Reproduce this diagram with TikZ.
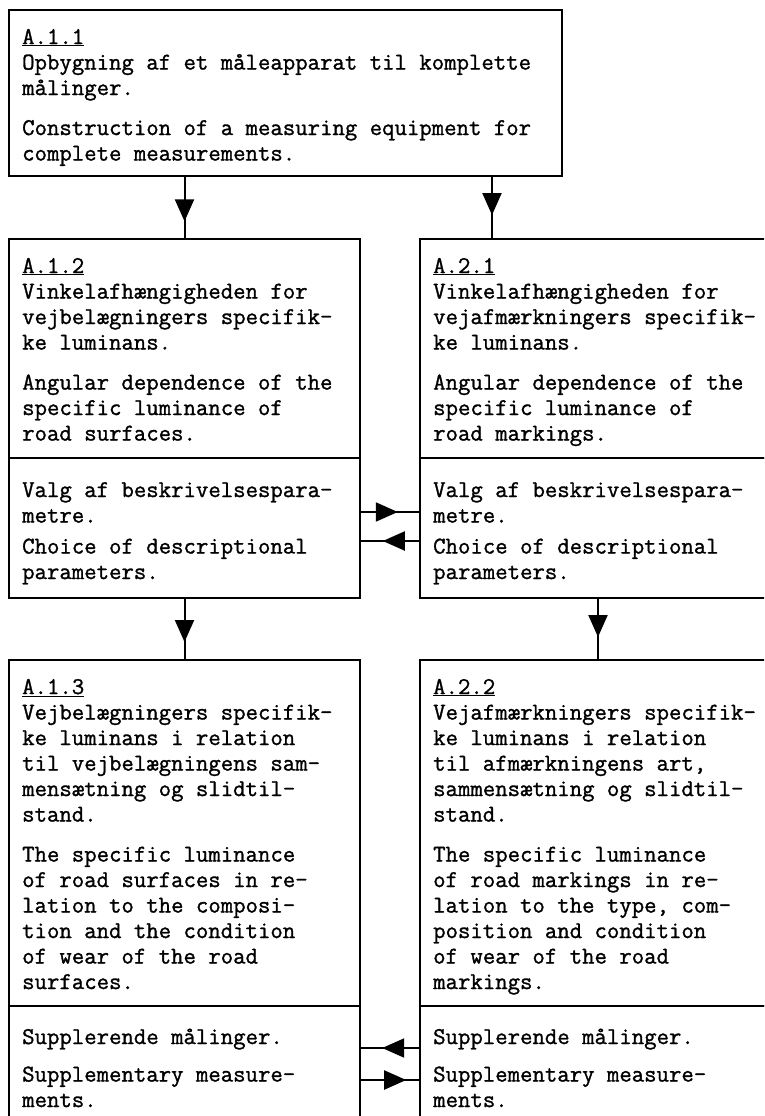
\documentclass[tikz,border=0pt]{standalone}
\usepackage{fontspec}
\setmonofont{Latin Modern Mono}[FakeBold=1.2]
\usetikzlibrary{arrows.meta,positioning,decorations.markings}

\begin{document}
\begin{tikzpicture}[
  x=1pt,y=1pt,
  font=\fontsize{24.1}{25.5}\selectfont\ttfamily,
  box/.style={draw,line width=2.2pt,inner sep=0pt,outer sep=0pt},
  txt/.style={align=left,inner sep=0pt,anchor=north west},
  flow/.style={line width=2pt,postaction={decorate},
    decoration={markings,mark=at position #1 with
      {\arrow{Triangle[width=19pt,length=22pt]}}}}
]
\useasboundingbox (0,0) rectangle (764,-1116);
\clip (0,0) rectangle (764,-1116);

% frames
\node[box,minimum width=553pt,minimum height=166pt,anchor=north west] (a11) at (9,-10) {};
\node[box,minimum width=351pt,minimum height=219pt,below=63pt of a11.south west,anchor=north west] (a12) {};
\node[box,minimum width=351pt,minimum height=140pt,below=0pt of a12.south west,anchor=north west] (a12b) {};
\node[box,minimum width=400pt,minimum height=219pt,right=60pt of a12.north east,anchor=north west] (a21) {};
\node[box,minimum width=400pt,minimum height=140pt,below=0pt of a21.south west,anchor=north west] (a21b) {};
\node[box,minimum width=351pt,minimum height=346pt,below=62pt of a12b.south west,anchor=north west] (a13) {};
\node[box,minimum width=351pt,minimum height=160pt,below=0pt of a13.south west,anchor=north west] (a13b) {};
\node[box,minimum width=400pt,minimum height=346pt,right=60pt of a13.north east,anchor=north west] (a22) {};
\node[box,minimum width=400pt,minimum height=160pt,below=0pt of a22.south west,anchor=north west] (a22b) {};

% texts
\node[txt] (a11t) at ([shift={(13pt,-16pt)}]a11.north west)
  {\strut\underline{A.1.1}\\
   Opbygning af et måleapparat til komplette\\
   målinger.\\[14.5pt]
   Construction of a measuring equipment for\\
   complete measurements.};
\node[txt] (a12t) at ([shift={(13pt,-16pt)}]a12.north west)
  {\strut\underline{A.1.2}\\
   Vinkelafhængigheden for\\
   vejbelægningers specifik-\\
   ke luminans.\\[14.5pt]
   Angular dependence of the\\
   specific luminance of\\
   road surfaces.};
\node[txt] (a12bt) at ([shift={(13pt,-21pt)}]a12b.north west)
  {\strut Valg af beskrivelsespara-\\
   metre.\\[5.5pt]
   Choice of descriptional\\
   parameters.};
\node[txt] (a21t) at ([shift={(13pt,-16pt)}]a21.north west)
  {\strut\underline{A.2.1}\\
   Vinkelafhængigheden for\\
   vejafmærkningers specifik-\\
   ke luminans.\\[14.5pt]
   Angular dependence of the\\
   specific luminance of\\
   road markings.};
\node[txt] (a21bt) at ([shift={(13pt,-21pt)}]a21b.north west)
  {\strut Valg af beskrivelsespara-\\
   metre.\\[5.5pt]
   Choice of descriptional\\
   parameters.};
\node[txt] (a13t) at ([shift={(13pt,-16pt)}]a13.north west)
  {\strut\underline{A.1.3}\\
   Vejbelægningers specifik-\\
   ke luminans i relation\\
   til vejbelægningens sam-\\
   mensætning og slidtil-\\
   stand.\\[14.5pt]
   The specific luminance\\
   of road surfaces in re-\\
   lation to the composi-\\
   tion and the condition\\
   of wear of the road\\
   surfaces.};
\node[txt] (a13bt) at ([shift={(13pt,-20pt)}]a13b.north west)
  {\strut Supplerende målinger.\\[12pt]
   Supplementary measure-\\
   ments.};
\node[txt] (a22t) at ([shift={(13pt,-16pt)}]a22.north west)
  {\strut\underline{A.2.2}\\
   Vejafmærkningers specifik-\\
   ke luminans i relation\\
   til afmærkningens art,\\
   sammensætning og slidtil-\\
   stand.\\[14.5pt]
   The specific luminance\\
   of road markings in re-\\
   lation to the type, com-\\
   position and condition\\
   of wear of the road\\
   markings.};
\node[txt] (a22bt) at ([shift={(13pt,-20pt)}]a22b.north west)
  {\strut Supplerende målinger.\\[12pt]
   Supplementary measure-\\
   ments.};

% connectors
\coordinate (in21) at ([xshift=72pt]a21.north west);
\coordinate (out21) at ([xshift=178pt]a21b.south west);
\coordinate (p1) at ([yshift=-54pt]a12b.north east);
\coordinate (p2) at ([yshift=-83pt]a21b.north west);
\coordinate (q1) at ([yshift=-42pt]a22b.north west);
\coordinate (q2) at ([yshift=-74pt]a13b.north east);
\draw[flow=0.72] (a11.south -| a12.north) -- (a12.north);
\draw[flow=0.62] (in21 |- a11.south) -- (in21);
\draw[flow=0.71] (a12b.south) -- (a13.north);
\draw[flow=0.63] (out21) -- (out21 |- a22.north);
\draw[flow=0.63] (p1) -- (p1 -| a21b.west);
\draw[flow=0.62] (p2) -- (p2 -| a12b.east);
\draw[flow=0.63] (q1) -- (q1 -| a13b.east);
\draw[flow=0.77] (q2) -- (q2 -| a22b.west);
\end{tikzpicture}
\end{document}
